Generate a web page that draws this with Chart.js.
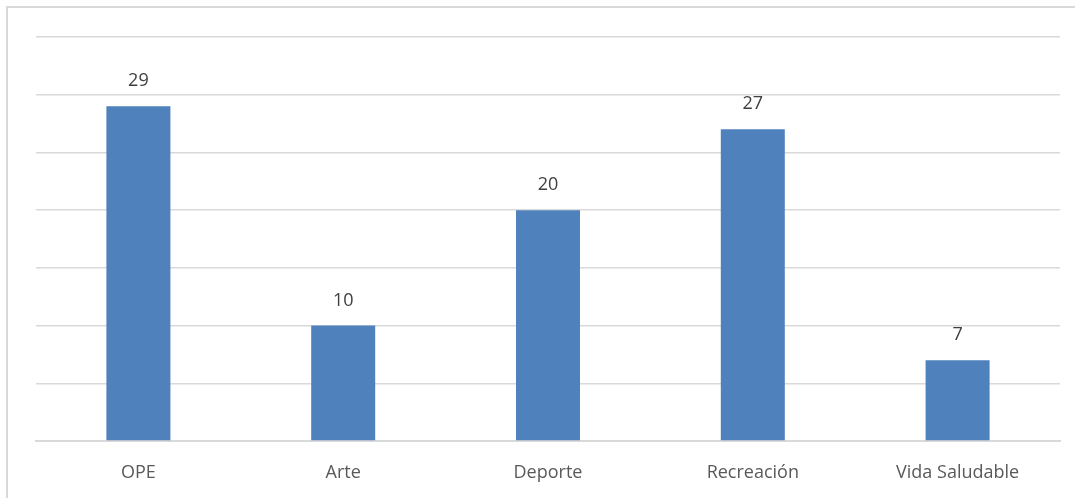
<!DOCTYPE html>
<html>
<head>
<meta charset="utf-8">
<script src="https://cdn.jsdelivr.net/npm/chart.js@4.4.1/dist/chart.umd.min.js"></script>
<style>
  html, body { margin: 0; padding: 0; background: #fff; }
  #frame {
    position: absolute; left: 0; top: 0; width: 1075px; height: 498px; overflow: hidden;
  }
  #border {
    position: absolute; left: 6px; top: 6px; width: 1100px; height: 520px;
    border: 2px solid #d9d9d9; box-sizing: border-box;
  }
  canvas { position: absolute; left: 0; top: 0; }
</style>
</head>
<body>
<div id="frame">
  <div id="border"></div>
  <canvas id="chart" width="1075" height="498"></canvas>
</div>
<script>
// Chart data
const categories = ['OPE', 'Arte', 'Deporte', 'Recreación', 'Vida Saludable'];
const counts = [29, 10, 20, 27, 7];
const yMax = 35;
const yStep = 5;

// Draws the value above each bar
const valueLabels = {
    id: 'valueLabels',
    afterDatasetsDraw(chart) {
        const ctx = chart.ctx;
        const meta = chart.getDatasetMeta(0);
        ctx.save();
        ctx.font = '18px "Open Sans", "DejaVu Sans", sans-serif';
        ctx.fillStyle = '#404040';
        ctx.textAlign = 'center';
        ctx.textBaseline = 'bottom';
        meta.data.forEach((bar, i) => {
            ctx.fillText(String(counts[i]), bar.x, bar.y - 16);
        });
        ctx.restore();
    }
};

const ctx = document.getElementById('chart').getContext('2d');
new Chart(ctx, {
    type: 'bar',
    data: {
        labels: categories,
        datasets: [{
            data: counts,
            backgroundColor: '#4f81bd',
            borderWidth: 0,
            barPercentage: 0.625,
            categoryPercentage: 0.5
        }]
    },
    options: {
        responsive: false,
        animation: false,
        layout: { padding: { left: 36, right: 15, top: 37, bottom: 0 } },
        plugins: {
            legend: { display: false },
            tooltip: { enabled: false }
        },
        scales: {
            x: {
                grid: { display: false },
                border: { display: true, color: '#d9d9d9', width: 2 },
                ticks: {
                    color: '#595959',
                    padding: 13,
                    font: { family: '"Open Sans", "DejaVu Sans", sans-serif', size: 18 }
                },
                afterFit(scale) { scale.height = 57; }
            },
            y: {
                min: 0,
                max: yMax,
                ticks: { display: false, stepSize: yStep },
                grid: { color: '#d9d9d9', lineWidth: 1.5, drawTicks: false },
                border: { display: false },
                afterFit(scale) { scale.width = 0; }
            }
        }
    },
    plugins: [valueLabels]
});
</script>
</body>
</html>
